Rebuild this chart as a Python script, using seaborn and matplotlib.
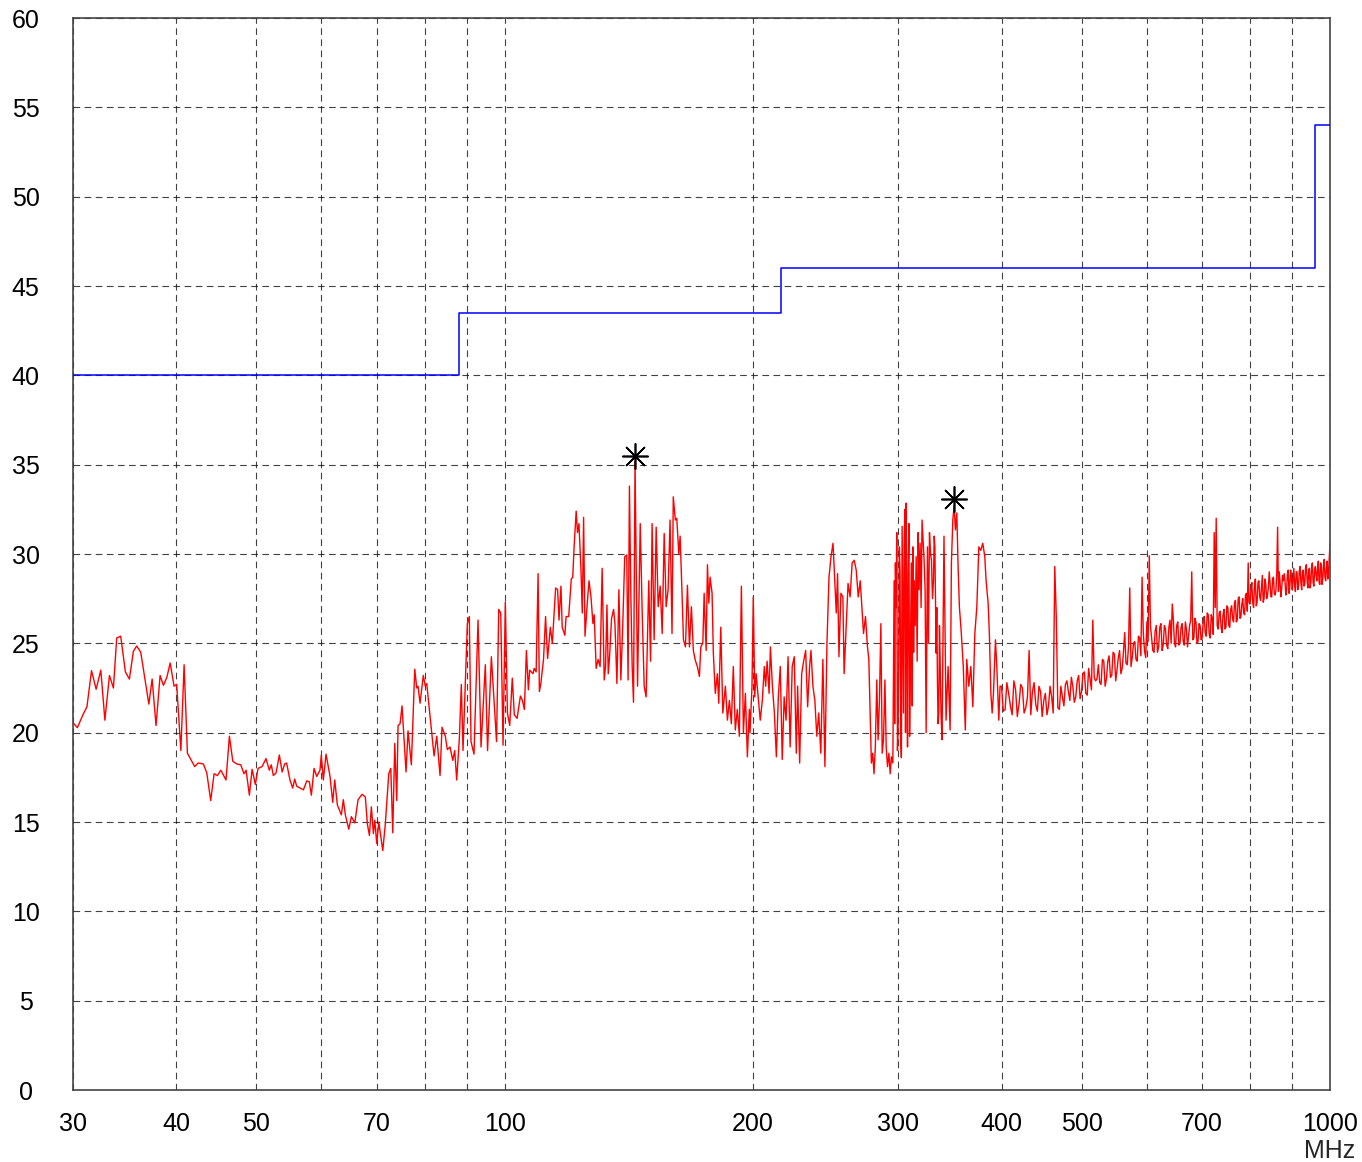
import numpy as np
import matplotlib
matplotlib.use("Agg")
import matplotlib.pyplot as plt
from matplotlib.ticker import NullLocator, FixedLocator, FixedFormatter
import seaborn as sns

# ---------------- data ----------------
# limit line (MHz, dBuV/m), step function
limit_freq = [30, 88, 216, 960, 1000]
limit_level = [40, 43.5, 46, 54, 54]

# measured spectrum, segment 30-88 MHz
freq_a = [30.0, 30.37, 30.84, 31.19, 31.59, 32.0, 32.42, 32.79, 33.21, 33.58,
          33.89, 34.27, 34.72, 35.11, 35.5, 35.83, 36.24, 37.07, 37.41, 37.82,
          38.25, 38.61, 38.98, 39.34, 39.77, 40.06, 40.53, 40.9, 41.28, 42.13,
          42.53, 43.16, 43.57, 44.05, 44.47, 44.88, 45.31, 45.97, 46.41, 46.85,
          47.37, 47.9, 48.34, 48.62, 49.07, 49.44, 49.89, 50.27, 50.84, 51.4,
          51.87, 52.16, 52.46, 52.86, 53.35, 53.76, 54.15, 54.44, 54.95, 55.37,
          55.68, 56.0, 57.05, 57.59, 58.0, 58.33, 58.77, 59.21, 59.75, 59.97,
          60.31, 60.77, 61.45, 61.91, 62.26, 62.72, 63.42, 63.77, 64.13, 64.75,
          65.22, 65.84, 66.45, 67.19, 67.81, 68.19, 68.58, 68.96, 69.35, 69.62,
          70.0, 70.4, 70.79, 71.19, 71.7, 72.39, 72.8, 73.2, 73.61, 74.02,
          74.29, 74.71, 75.12, 75.96, 76.39, 77.1, 77.83, 78.26, 78.55, 78.99,
          79.71, 80.16, 80.48, 81.39, 82.14, 82.76, 83.52, 83.98, 84.76, 85.24,
          85.88, 86.53, 87.01, 87.49, 88.13]
level_a = [20.56, 20.28, 21.0, 21.45, 23.47, 22.43, 23.5, 20.7, 23.2, 22.5,
           25.3, 25.4, 23.4, 23.0, 24.55, 24.85, 24.5, 21.6, 23.0, 20.4,
           23.2, 22.65, 23.1, 23.9, 22.6, 22.7, 19.0, 23.8, 18.85, 18.1,
           18.3, 18.25, 17.75, 16.2, 17.7, 17.6, 17.9, 17.35, 19.8, 18.4,
           18.25, 18.2, 17.7, 17.9, 16.5, 17.95, 17.1, 18.0, 18.1, 18.55,
           17.9, 18.2, 17.6, 17.75, 18.75, 17.8, 18.25, 18.3, 17.35, 16.9,
           17.4, 17.0, 16.8, 17.3, 17.25, 16.5, 18.0, 17.55, 17.9, 18.75,
           17.35, 18.8, 17.55, 16.1, 17.35, 15.95, 15.4, 16.25, 15.4, 14.6,
           15.3, 14.95, 16.25, 16.55, 16.4, 14.9, 14.25, 15.85, 14.35, 15.1,
           13.8, 15.0, 14.2, 13.4, 14.9, 17.7, 18.0, 14.4, 19.4, 16.2,
           20.4, 20.5, 21.5, 17.8, 20.1, 18.2, 23.55, 22.5, 22.6, 21.65,
           23.2, 22.6, 22.75, 20.5, 18.7, 19.8, 17.6, 20.3, 19.8, 19.05,
           19.2, 18.45, 19.0, 17.35, 19.6]

# segment 88-200 MHz
freq_b = [88.63, 89.05, 90.13, 90.63, 91.06, 91.82, 92.86, 93.64, 94.77, 95.36,
          96.38, 97.3, 97.78, 98.38, 98.93, 99.57, 100.2, 100.79, 101.44, 102.17,
          102.75, 103.55, 104.51, 105.1, 105.68, 106.27, 106.86, 107.24, 108.23, 108.62,
          109.2, 109.8, 110.19, 110.64, 111.47, 112.11, 112.75, 113.61, 114.25, 115.3,
          115.94, 116.39, 117.03, 117.44, 118.31, 118.72, 119.58, 120.45, 120.94, 121.4,
          122.1, 122.55, 123.05, 123.75, 124.2, 124.66, 125.15, 125.85, 126.55, 127.25,
          127.95, 128.4, 129.1, 129.8, 130.53, 131.28, 132.03, 132.52, 133.05, 133.53,
          134.02, 134.77, 135.53, 136.05, 136.8, 137.56, 138.31, 139.06, 139.81, 140.61,
          141.13, 141.66, 142.23, 142.75, 143.28, 143.89, 144.9, 145.99, 146.8, 147.61,
          148.42, 149.51, 150.26, 150.91, 151.77, 152.63, 153.49, 154.35, 155.22, 156.08,
          156.94, 157.8, 158.66, 159.53, 160.09, 161.01, 161.66, 162.58, 163.18, 164.1,
          164.7, 165.62, 166.54, 167.47, 168.39, 169.31, 170.24, 171.22, 172.2, 172.88,
          173.85, 174.49, 175.46, 176.1, 176.78, 177.41, 178.39, 179.02, 180.0, 181.03,
          181.75, 182.78, 183.81, 185.15, 186.19, 187.22, 188.25, 189.28, 190.33, 191.41,
          192.5, 193.59, 194.67, 195.76, 196.85, 197.93, 198.3, 199.4]
level_b = [22.7, 19.0, 26.1, 26.5, 19.5, 18.8, 26.3, 19.2, 23.8, 19.0,
           24.25, 21.1, 19.5, 26.9, 26.7, 19.3, 27.3, 21.1, 20.4, 23.05,
           21.0, 20.8, 22.05, 21.8, 21.3, 24.6, 22.4, 23.5, 23.3, 23.6,
           23.4, 28.9, 22.3, 22.75, 24.1, 26.5, 24.15, 25.9, 25.0, 28.1,
           28.0, 26.3, 28.2, 25.9, 25.45, 26.5, 26.5, 28.6, 28.7, 30.4,
           32.4, 31.2, 31.7, 29.1, 26.7, 32.05, 25.4, 27.05, 28.5, 27.6,
           26.1, 26.6, 23.6, 24.1, 23.7, 29.2, 22.95, 23.7, 27.15, 23.3,
           24.25, 26.4, 26.9, 26.1, 22.75, 28.0, 22.95, 26.1, 29.85, 29.95,
           22.95, 33.8, 27.6, 23.7, 21.7, 35.2, 22.6, 31.7, 26.7, 22.6,
           22.0, 28.5, 24.0, 31.7, 25.2, 31.5, 27.05, 28.2, 25.55, 31.15,
           27.05, 28.0, 31.9, 25.55, 33.2, 31.9, 32.0, 30.0, 31.0, 27.6,
           25.2, 24.8, 28.25, 24.8, 27.05, 24.6, 24.05, 23.7, 23.15, 24.8,
           25.0, 27.8, 24.6, 29.4, 27.25, 28.7, 27.8, 24.45, 22.2, 23.3,
           21.65, 25.9, 21.1, 22.6, 20.7, 21.8, 20.5, 23.7, 20.15, 21.3,
           19.8, 28.2, 20.0, 22.2, 18.65, 21.3, 20.0, 22.6]

# segment 200-400 MHz
freq_c = [200.12, 200.94, 201.7, 202.87, 204.05, 205.22, 206.39, 207.16, 207.98, 209.15,
          209.92, 211.09, 212.26, 213.43, 214.61, 215.78, 216.95, 218.12, 219.3, 220.51,
          221.79, 223.08, 224.36, 225.64, 226.47, 227.76, 229.04, 230.32, 231.6, 232.88,
          234.17, 235.06, 236.35, 237.63, 238.91, 240.21, 241.6, 243.0, 244.39, 245.78,
          247.18, 248.57, 249.97, 251.36, 252.26, 253.17, 254.15, 255.54, 256.93, 257.84,
          259.23, 260.68, 262.18, 263.68, 265.19, 266.69, 268.2, 269.7, 271.2, 272.18,
          273.68, 275.19, 276.24, 277.22, 278.2, 279.25, 280.24, 281.3, 282.43, 283.48,
          284.54, 285.67, 286.72, 287.77, 288.91, 289.96, 291.01, 292.15, 293.2, 294.25,
          295.38, 296.44, 297.49, 298.62, 299.68, 300.78, 301.99, 303.12, 304.24, 305.45,
          306.58, 307.71, 308.92, 310.05, 311.17, 312.38, 313.51, 315.24, 316.97, 318.7,
          320.46, 322.29, 324.13, 325.32, 327.16, 328.99, 330.83, 332.11, 333.3, 334.5,
          335.78, 336.97, 338.81, 340.68, 342.63, 344.59, 346.54, 347.8, 349.17, 350.44,
          351.71, 353.08, 354.35, 355.62, 357.56, 359.51, 361.55, 363.0, 365.08, 367.15,
          369.22, 371.29, 373.37, 375.44, 377.51, 379.59, 381.74, 383.15, 385.33, 386.74,
          388.26, 389.67, 391.09, 393.26, 394.78, 396.96, 398.37]
level_c = [27.6, 22.0, 23.3, 22.0, 20.7, 21.8, 23.7, 22.6, 24.0, 22.2,
           24.8, 22.6, 21.1, 18.65, 22.0, 23.7, 18.5, 22.0, 20.7, 24.25,
           19.2, 23.7, 24.25, 18.85, 22.6, 18.3, 23.3, 24.0, 24.6, 21.45,
           23.7, 24.6, 22.6, 21.8, 19.8, 21.1, 18.85, 24.1, 18.1, 25.0,
           28.7, 29.85, 30.6, 28.2, 26.7, 28.9, 24.25, 27.8, 27.6, 23.3,
           25.75, 28.35, 27.6, 29.5, 29.65, 29.1, 27.6, 28.5, 26.7, 25.55,
           26.5, 24.8, 24.1, 21.1, 18.3, 18.85, 17.7, 19.2, 22.95, 19.6,
           21.8, 26.1, 18.85, 19.6, 22.95, 19.2, 18.1, 18.85, 17.7, 18.65,
           18.3, 28.5, 29.5, 31.2, 20.15, 30.4, 19.6, 31.55, 21.1, 32.5,
           32.85, 19.2, 31.7, 22.95, 29.5, 30.4, 28.5, 29.85, 31.2, 30.6,
           31.9, 29.65, 20.0, 30.4, 31.2, 29.65, 28.5, 30.4, 24.45, 22.95,
           21.1, 24.25, 19.6, 31.0, 20.7, 23.7, 20.15, 29.5, 31.9, 32.7,
           31.35, 32.3, 29.3, 27.05, 25.55, 23.7, 20.15, 24.1, 22.6, 23.7,
           21.45, 25.55, 27.05, 30.4, 30.2, 30.6, 29.85, 28.5, 27.25, 25.4,
           22.2, 21.1, 22.2, 25.2, 23.7, 20.7, 22.6]

# extra sweep points in the dense 296-340 MHz burst
freq_c2 = [296.9, 298.1, 299.2, 300.3, 301.4, 302.5, 303.7, 304.8, 306.0, 307.1,
           308.3, 309.5, 310.6, 311.8, 313.0, 314.4, 316.1, 317.8, 319.6, 321.4,
           323.2, 326.2, 328.1, 329.9, 331.5, 333.9, 335.1, 336.4, 337.9, 339.7]
level_c2 = [20.5, 27.0, 19.0, 24.0, 29.0, 18.6, 26.0, 30.5, 20.0, 27.5,
            29.0, 19.8, 27.0, 21.5, 24.5, 26.0, 24.0, 28.0, 27.0, 30.8,
            28.0, 25.0, 30.0, 27.5, 31.0, 27.0, 20.5, 26.0, 21.0, 25.0]

# segment 400-1000 MHz (even sweep points)
freq_d = [400, 404, 408, 412, 416, 420, 424, 428, 432, 436,
          440, 444, 448, 452, 456, 460, 464, 468, 472, 476,
          480, 484, 488, 492, 496, 500, 504, 508, 512, 516,
          520, 524, 528, 532, 536, 540, 544, 548, 552, 556,
          560, 564, 568, 572, 576, 580, 584, 588, 592, 596,
          600, 604, 608, 612, 616, 620, 624, 628, 632, 636,
          640, 644, 648, 652, 656, 660, 664, 668, 672, 676,
          680, 684, 688, 692, 696, 700, 704, 708, 712, 716,
          720, 724, 728, 732, 736, 740, 744, 748, 752, 756,
          760, 764, 768, 772, 776, 780, 784, 788, 792, 796,
          800, 804, 808, 812, 816, 820, 824, 828, 832, 836,
          840, 844, 848, 852, 856, 860, 864, 868, 872, 876,
          880, 884, 888, 892, 896, 900, 904, 908, 912, 916,
          920, 924, 928, 932, 936, 940, 944, 948, 952, 956,
          960, 964, 968, 972, 976, 980, 984, 988, 992, 996,
          1000]
level_d = [22.6, 21.3, 22.2, 21.0, 22.4, 21.6, 22.5, 21.4, 24.6, 22.3,
           21.6, 22.6, 20.9, 22.2, 21.5, 22.0, 29.3, 21.4, 22.6, 21.5,
           22.9, 21.8, 22.6, 22.0, 23.2, 22.3, 23.4, 22.1, 23.0, 26.3,
           22.9, 23.8, 22.7, 24.0, 23.0, 24.3, 23.2, 24.4, 23.5, 24.6,
           23.6, 25.6, 23.8, 28.1, 24.2, 25.1, 24.0, 25.3, 28.7, 24.6,
           26.2, 29.9, 25.3, 24.5, 26.0, 24.8, 26.1, 24.9, 25.8, 24.7,
           26.3, 27.2, 25.0, 26.0, 24.9, 25.9, 25.1, 26.2, 24.8, 26.0,
           29.0, 25.3, 26.2, 25.1, 26.0, 25.3, 26.5, 25.4, 26.6, 25.3,
           26.4, 31.2, 32.0, 25.8, 26.8, 25.6, 26.9, 25.9, 27.0, 25.9,
           27.1, 26.2, 27.4, 26.3, 27.6, 26.5, 27.5, 26.6, 27.8, 29.5,
           27.2, 28.4, 27.0, 28.6, 27.3, 28.5, 27.4, 28.8, 27.5, 28.3,
           27.7, 29.0, 27.6, 28.6, 27.8, 28.0, 31.5, 29.0, 27.6, 28.8,
           28.9, 27.7, 28.9, 27.8, 29.1, 28.0, 29.2, 27.9, 29.0, 28.2,
           29.3, 28.0, 29.1, 28.3, 29.4, 28.1, 29.2, 28.4, 29.5, 28.2,
           29.3, 28.5, 29.6, 28.3, 29.4, 28.6, 29.7, 28.5, 29.6, 29.0,
           30.6]

# segment 400-1000 MHz (odd sweep points)
freq_e = [402, 406, 410, 414, 418, 422, 426, 430, 434, 438,
          442, 446, 450, 454, 458, 462, 466, 470, 474, 478,
          482, 486, 490, 494, 498, 502, 506, 510, 514, 518,
          522, 526, 530, 534, 538, 542, 546, 550, 554, 558,
          562, 566, 570, 574, 578, 582, 586, 590, 594, 598,
          602, 606, 610, 614, 618, 622, 626, 630, 634, 638,
          642, 646, 650, 654, 658, 662, 666, 670, 674, 678,
          682, 686, 690, 694, 698, 702, 706, 710, 714, 718,
          722, 726, 730, 734, 738, 742, 746, 750, 754, 758,
          762, 766, 770, 774, 778, 782, 786, 790, 794, 798,
          802, 806, 810, 814, 818, 822, 826, 830, 834, 838,
          842, 846, 850, 854, 858, 862, 866, 870, 874, 878,
          882, 886, 890, 894, 898, 902, 906, 910, 914, 918,
          922, 926, 930, 934, 938, 942, 946, 950, 954, 958,
          962, 966, 970, 974, 978, 982, 986, 990, 994, 998]
level_e = [21.2, 22.8, 21.5, 22.9, 20.9, 22.7, 21.1, 22.0, 21.0, 22.8,
           21.2, 22.3, 21.8, 21.0, 22.6, 21.1, 26.5, 21.3, 22.0, 22.7,
           22.3, 23.1, 21.7, 22.9, 21.9, 23.3, 22.2, 23.6, 22.4, 23.1,
           23.0, 22.8, 24.1, 22.6, 24.0, 23.1, 24.5, 22.9, 24.2, 23.3,
           24.5, 23.9, 24.8, 23.7, 25.0, 24.1, 25.4, 24.3, 25.6, 24.2,
           25.1, 26.0, 24.6, 25.7, 24.5, 25.9, 24.6, 26.0, 24.9, 25.9,
           25.0, 26.3, 24.8, 26.2, 25.0, 26.1, 24.9, 25.8, 25.4, 26.3,
           25.2, 26.4, 25.0, 26.1, 25.2, 26.2, 25.6, 26.7, 25.5, 26.6,
           25.5, 27.0, 26.0, 26.7, 25.9, 26.6, 25.8, 27.1, 26.0, 26.9,
           26.4, 27.2, 26.2, 27.5, 26.4, 27.2, 26.7, 27.7, 26.8, 27.3,
           28.0, 27.3, 28.2, 27.1, 28.4, 27.6, 28.1, 27.3, 28.6, 27.5,
           28.1, 28.4, 27.6, 28.7, 27.7, 28.9, 27.9, 28.4, 28.1, 28.5,
           28.5, 28.0, 29.1, 28.2, 28.7, 28.5, 28.3, 29.0, 28.0, 29.1,
           28.4, 29.0, 28.2, 29.2, 28.6, 29.0, 28.1, 29.3, 28.4, 29.1,
           28.8, 29.2, 28.4, 29.5, 28.3, 29.3, 28.7, 29.2, 28.6, 29.8]

# peak markers
peak_freq = [143.9, 350.0]
peak_level = [35.5, 33.1]

# axis ticks
grid_freqs = [30, 40, 50, 60, 70, 80, 90, 100, 200, 300, 400, 500, 600, 700, 800, 900, 1000]
grid_labels = ["30", "40", "50", "", "70", "", "", "100", "200", "300", "400", "500",
               "", "700", "", "", "1000"]
y_ticks = [0, 5, 10, 15, 20, 25, 30, 35, 40, 45, 50, 55, 60]

# ---------------- plot ----------------
sns.set_style("white")
plt.rcParams["font.family"] = ["Liberation Sans", "DejaVu Sans"]

W, H = 1362, 1162
fig = plt.figure(figsize=(W / 100, H / 100), dpi=100)
ax = fig.add_axes([73 / W, 1 - 1090 / H, (1330 - 73) / W, (1090 - 18) / H])

freq = np.concatenate([freq_a, freq_b, freq_c, freq_c2, freq_d, freq_e])
level = np.concatenate([level_a, level_b, level_c, level_c2, level_d, level_e])
order = np.argsort(freq, kind="stable")
freq = freq[order]
level = level[order]

sns.lineplot(x=freq, y=level, ax=ax, color="#ff0000", linewidth=1.0,
             estimator=None, sort=False, zorder=3)
sns.lineplot(x=limit_freq, y=limit_level, ax=ax, color="#0000ff", linewidth=1.1,
             estimator=None, sort=False, drawstyle="steps-post", zorder=3)
sns.scatterplot(x=peak_freq, y=peak_level, ax=ax, marker=(8, 2, 0), s=330,
                color="black", linewidth=1.2, zorder=4)

ax.set_xscale("log")
ax.set_xlim(30, 1000)
ax.set_ylim(0, 60)
ax.xaxis.set_major_locator(FixedLocator(grid_freqs))
ax.xaxis.set_major_formatter(FixedFormatter(grid_labels))
ax.xaxis.set_minor_locator(NullLocator())
ax.set_yticks(y_ticks)
ax.set_yticklabels([str(t) for t in y_ticks])

ax.grid(True, which="major", color="#111111", linestyle=(0, (6, 4)),
        linewidth=0.8, alpha=0.8, zorder=1)
ax.set_axisbelow(True)

for s in ax.spines.values():
    s.set_visible(True)
    s.set_color("#444444")
    s.set_linewidth(1.2)

ax.tick_params(axis="both", length=0, labelsize=18, colors="black")
ax.tick_params(axis="x", pad=16)
ax.tick_params(axis="y", pad=34)
for lbl in ax.get_yticklabels():
    lbl.set_horizontalalignment("center")

ax.set_xlabel("")
ax.set_ylabel("")

fig.text(1330 / W, 1 - 1151 / H, "MHz", ha="center", va="center", fontsize=18)

fig.savefig("out.png", dpi=100, facecolor="white")
